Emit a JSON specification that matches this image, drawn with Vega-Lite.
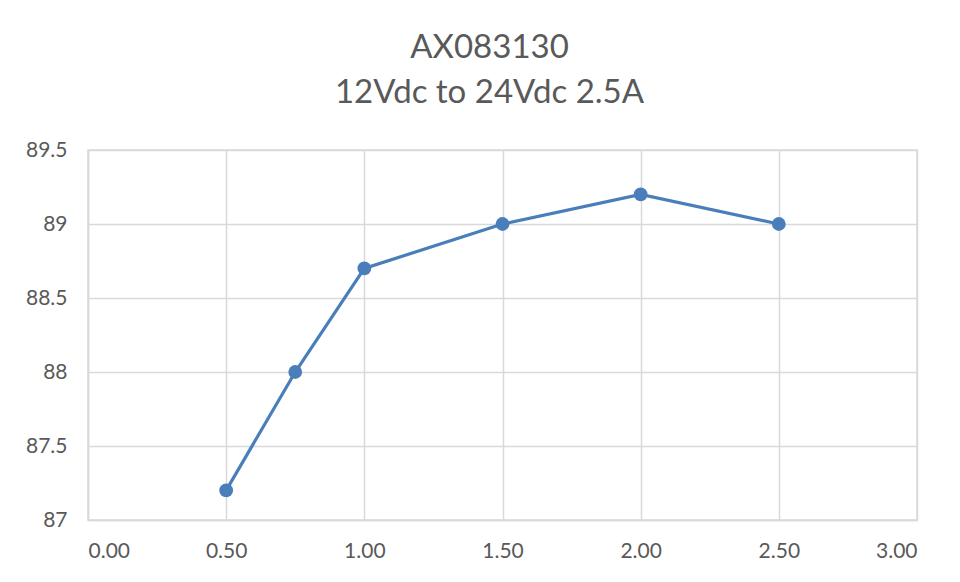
{
  "$schema": "https://vega.github.io/schema/vega-lite/v6.json",
  "autosize": {"type": "none"},
  "padding": {"left": 88, "top": 150, "right": 43, "bottom": 62},
  "width": 829,
  "height": 370,
  "background": "white",
  "title": {
    "text": ["AX083130", "12Vdc to 24Vdc 2.5A"],
    "font": "Lato",
    "fontSize": 33,
    "fontWeight": "normal",
    "color": "#595959",
    "lineHeight": 45,
    "anchor": "middle",
    "dx": -13,
    "offset": 29
  },
  "data": {
    "values": [
      {"x": 0.5, "y": 87.2},
      {"x": 0.75, "y": 88.0},
      {"x": 1.0, "y": 88.7},
      {"x": 1.5, "y": 89.0},
      {"x": 2.0, "y": 89.2},
      {"x": 2.5, "y": 89.0}
    ]
  },
  "mark": {"type": "line", "color": "#4a7ebb", "strokeWidth": 3.2, "point": {"filled": true, "size": 190, "color": "#4a7ebb", "opacity": 1}},
  "encoding": {
    "x": {
      "field": "x", "type": "quantitative",
      "scale": {"domain": [0, 3], "nice": false, "zero": false},
      "axis": {"title": null, "values": [0, 0.5, 1, 1.5, 2, 2.5, 3], "format": ".2f", "ticks": false, "labelPadding": 20}
    },
    "y": {
      "field": "y", "type": "quantitative",
      "scale": {"domain": [87, 89.5], "nice": false, "zero": false},
      "axis": {"title": null, "values": [87, 87.5, 88, 88.5, 89, 89.5], "labelExpr": "toString(datum.value)", "ticks": false, "labelPadding": 21}
    }
  },
  "config": {
    "view": {"stroke": "#d9d9d9", "strokeWidth": 1.5},
    "axis": {
      "labelFont": "Lato",
      "labelFontSize": 21,
      "labelColor": "#595959",
      "gridColor": "#d9d9d9",
      "gridWidth": 1.5,
      "gridOpacity": 1,
      "domainColor": "#d9d9d9",
      "domainWidth": 1.5
    }
  }
}
